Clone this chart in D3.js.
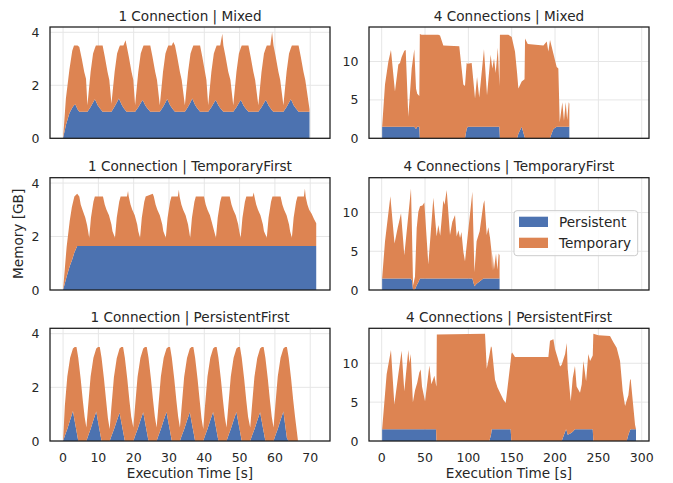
<!DOCTYPE html>
<html>
<head>
<meta charset="utf-8">
<script src="https://cdn.jsdelivr.net/npm/d3@7"></script>
<style>
  body { margin: 0; background: #fff; }
  text { font-family: "DejaVu Sans", sans-serif; fill: #262626; }
</style>
</head>
<body>
<svg></svg>
<script>
// ---- data (time in s, memory in GB) ----
var keys = ['Persistent', 'Temporary'];

// 1 Connection | Mixed (one line per cycle)
var mixed1Time = [
  0, 0.8, 1.8, 2.6, 3.1, 3.5, 4.1, 4.6, 5.3, 6.0, 6.5,
  6.9, 7.8, 8.5, 9.0, 9.3, 9.8, 10.3, 11.2, 11.8, 12.6, 13.1,
  13.7, 14.6, 15.3, 15.8, 16.1, 16.6, 17.1, 17.7, 18.0, 18.6, 19.4, 19.9,
  20.4, 21.3, 22.0, 22.5, 22.8, 23.3, 23.8, 24.7, 25.3, 26.1, 26.6,
  27.4, 28.3, 29.0, 29.5, 29.8, 30.3, 30.8, 31.2, 31.7, 32.3, 33.1, 33.6,
  34.5, 35.4, 36.1, 36.6, 36.9, 37.4, 37.9, 38.8, 39.4, 40.2, 40.6,
  41.1, 42.0, 42.7, 43.2, 43.5, 44.0, 44.5, 45.1, 45.4, 46.0, 46.8, 47.4,
  48.2, 49.1, 49.8, 50.3, 50.6, 51.1, 51.6, 52.5, 53.1, 53.9, 54.4,
  55.3, 56.2, 56.9, 57.4, 57.7, 58.2, 58.7, 59.2, 59.6, 60.2, 61.0, 61.5,
  62.4, 63.3, 64.0, 64.5, 64.8, 65.3, 65.8, 66.7, 67.3, 68.1, 68.6, 69.8
];
var mixed1Persistent = [
  0, 0.5, 0.95, 1.15, 1.25, 1.28, 1.1, 1.0, 1.0, 1.0, 1.0,
  1.0, 1.18, 1.35, 1.47, 1.4, 1.25, 1.15, 1.0, 1.0, 1.0, 1.0,
  1.0, 1.2, 1.37, 1.5, 1.42, 1.27, 1.15, 1.05, 1.0, 1.0, 1.0, 1.0,
  1.0, 1.17, 1.33, 1.45, 1.38, 1.24, 1.14, 1.0, 1.0, 1.0, 1.0,
  1.0, 1.18, 1.35, 1.48, 1.4, 1.25, 1.15, 1.08, 1.0, 1.0, 1.0, 1.0,
  1.0, 1.19, 1.36, 1.5, 1.41, 1.26, 1.15, 1.0, 1.0, 1.0, 1.0,
  1.0, 1.17, 1.33, 1.45, 1.38, 1.24, 1.14, 1.05, 1.0, 1.0, 1.0, 1.0,
  1.0, 1.17, 1.33, 1.45, 1.38, 1.24, 1.14, 1.0, 1.0, 1.0, 1.0,
  1.0, 1.17, 1.33, 1.45, 1.38, 1.24, 1.14, 1.05, 1.0, 1.0, 1.0, 1.0,
  1.0, 1.18, 1.35, 1.47, 1.4, 1.25, 1.15, 1.0, 1.0, 1.0, 1.0, 1.0
];
var mixed1Temporary = [
  0, 1.0, 1.65, 2.15, 2.25, 2.22, 2.4, 2.45, 2.0, 1.5, 1.25,
  0.25, 1.32, 1.85, 1.93, 2.1, 2.25, 2.35, 2.5, 2.1, 1.5, 1.2,
  0.3, 1.3, 1.83, 1.9, 2.08, 2.23, 2.35, 2.65, 2.5, 2.1, 1.5, 1.2,
  0.25, 1.33, 1.87, 1.95, 2.12, 2.26, 2.36, 2.5, 2.1, 1.5, 1.2,
  0.25, 1.32, 1.85, 1.92, 2.1, 2.25, 2.35, 2.55, 2.5, 2.1, 1.5, 1.2,
  0.25, 1.31, 1.84, 1.9, 2.09, 2.24, 2.35, 2.5, 2.1, 1.5, 1.2,
  0.25, 1.33, 1.87, 1.95, 2.12, 2.26, 2.36, 2.9, 2.5, 2.1, 1.5, 1.2,
  0.25, 1.33, 1.87, 1.95, 2.12, 2.26, 2.36, 2.5, 2.1, 1.5, 1.2,
  0.25, 1.33, 1.87, 1.95, 2.12, 2.26, 2.36, 2.95, 2.5, 2.1, 1.5, 1.2,
  0.25, 1.32, 1.85, 1.93, 2.1, 2.25, 2.35, 2.5, 2.1, 1.5, 1.2, 0.1
];

// 1 Connection | TemporaryFirst
var tempFirst1Time = [
  0, 1.0, 1.9, 2.5, 3.2, 4.0, 4.6, 5.0, 5.5, 6.3, 6.8, 7.1,
  7.4, 7.9, 8.6, 9.0, 11.3, 11.8, 12.3, 13.0, 13.7, 14.0,
  14.7, 15.2, 15.9, 16.3, 18.1, 18.4, 18.6, 19.1, 19.6, 20.3, 21.0, 21.3,
  21.8, 22.3, 23.0, 23.4, 25.4, 25.7, 26.2, 26.7, 27.4, 28.1, 28.4,
  29.1, 29.6, 30.3, 30.7, 32.5, 32.8, 33.0, 33.5, 34.0, 34.7, 35.4, 35.7,
  36.0, 36.5, 37.2, 37.6, 39.9, 40.4, 40.9, 41.6, 42.3, 42.8,
  43.3, 43.8, 44.5, 44.9, 47.2, 47.7, 48.2, 48.9, 49.6, 49.9,
  50.3, 50.8, 51.5, 51.9, 53.7, 54.0, 54.2, 54.7, 55.2, 55.9, 56.6, 56.9,
  57.7, 58.2, 58.9, 59.3, 61.6, 62.1, 62.6, 63.3, 64.0, 64.3,
  64.8, 65.3, 66.0, 66.4, 68.2, 68.5, 68.7, 69.2, 69.7, 70.4, 71.1, 71.7
];
var tempFirst1Persistent = [
  0, 0.5, 0.9, 1.1, 1.4, 1.65, 1.65, 1.65, 1.65, 1.65, 1.65, 1.65,
  1.65, 1.65, 1.65, 1.65, 1.65, 1.65, 1.65, 1.65, 1.65, 1.65,
  1.65, 1.65, 1.65, 1.65, 1.65, 1.65, 1.65, 1.65, 1.65, 1.65, 1.65, 1.65,
  1.65, 1.65, 1.65, 1.65, 1.65, 1.65, 1.65, 1.65, 1.65, 1.65, 1.65,
  1.65, 1.65, 1.65, 1.65, 1.65, 1.65, 1.65, 1.65, 1.65, 1.65, 1.65, 1.65,
  1.65, 1.65, 1.65, 1.65, 1.65, 1.65, 1.65, 1.65, 1.65, 1.65,
  1.65, 1.65, 1.65, 1.65, 1.65, 1.65, 1.65, 1.65, 1.65, 1.65,
  1.65, 1.65, 1.65, 1.65, 1.65, 1.65, 1.65, 1.65, 1.65, 1.65, 1.65, 1.65,
  1.65, 1.65, 1.65, 1.65, 1.65, 1.65, 1.65, 1.65, 1.65, 1.65,
  1.65, 1.65, 1.65, 1.65, 1.65, 1.65, 1.65, 1.65, 1.65, 1.65, 1.65, 1.65
];
var tempFirst1Temporary = [
  0, 1.1, 1.7, 2.0, 2.1, 1.95, 1.85, 1.55, 1.35, 1.05, 0.78, 0.55,
  0.3, 1.05, 1.65, 1.85, 1.85, 1.55, 1.35, 1.15, 0.8, 0.55,
  0.3, 1.05, 1.65, 1.85, 1.85, 2.05, 1.85, 1.55, 1.35, 1.15, 0.8, 0.55,
  0.3, 1.05, 1.65, 1.85, 1.95, 1.85, 1.55, 1.35, 1.15, 0.8, 0.55,
  0.3, 1.05, 1.65, 1.85, 1.85, 2.1, 1.85, 1.55, 1.35, 1.15, 0.8, 0.55,
  0.3, 1.05, 1.65, 1.85, 1.85, 1.55, 1.35, 1.15, 0.8, 0.55,
  0.3, 1.05, 1.65, 1.85, 1.85, 1.55, 1.35, 1.15, 0.8, 0.55,
  0.3, 1.05, 1.65, 1.85, 1.85, 2.0, 1.85, 1.55, 1.35, 1.15, 0.8, 0.55,
  0.3, 1.05, 1.65, 1.85, 1.85, 1.55, 1.35, 1.15, 0.8, 0.55,
  0.3, 1.05, 1.65, 1.85, 1.85, 2.15, 1.85, 1.55, 1.35, 1.2, 1.0, 0.85
];

// 1 Connection | PersistentFirst
var persFirst1Time = [
  0, 0.5, 1.2, 2.0, 2.8, 3.3, 3.8, 4.3, 5.0, 5.6, 6.1,
  6.6, 7.1, 7.8, 8.6, 9.4, 9.9, 10.4, 10.9, 11.6, 12.2, 12.7,
  13.2, 13.7, 14.4, 15.2, 16.0, 16.5, 17.0, 17.5, 18.2, 18.8, 19.3,
  19.9, 20.4, 21.1, 21.9, 22.7, 23.2, 23.7, 24.2, 24.9, 25.5, 26.0,
  26.5, 27.0, 27.7, 28.5, 29.3, 29.8, 30.3, 30.8, 31.5, 32.1, 32.6,
  33.1, 33.6, 34.3, 35.1, 35.9, 36.4, 36.9, 37.4, 38.1, 38.7, 39.2,
  39.7, 40.2, 40.9, 41.7, 42.5, 43.0, 43.5, 44.0, 44.7, 45.3, 45.8,
  46.3, 46.8, 47.5, 48.3, 49.1, 49.6, 50.1, 50.6, 51.3, 51.9, 52.4,
  53.0, 53.5, 54.2, 55.0, 55.8, 56.3, 56.8, 57.3, 58.0, 58.6, 59.1,
  59.6, 60.1, 60.8, 61.6, 62.4, 62.9, 63.4, 63.9, 64.6, 65.2, 65.7, 66.5
];
var persFirst1Persistent = [
  0, 0.2, 0.45, 0.78, 1.12, 0.74, 0.37, 0, 0, 0, 0,
  0, 0.2, 0.45, 0.78, 1.1, 0.72, 0.36, 0, 0, 0, 0,
  0, 0.19, 0.43, 0.75, 1.05, 0.7, 0.35, 0, 0, 0, 0,
  0, 0.2, 0.44, 0.76, 1.07, 0.71, 0.35, 0, 0, 0, 0,
  0, 0.2, 0.45, 0.77, 1.08, 0.72, 0.36, 0, 0, 0, 0,
  0, 0.2, 0.44, 0.76, 1.07, 0.71, 0.35, 0, 0, 0, 0,
  0, 0.2, 0.45, 0.77, 1.08, 0.72, 0.36, 0, 0, 0, 0,
  0, 0.2, 0.45, 0.77, 1.08, 0.72, 0.36, 0, 0, 0, 0,
  0, 0.2, 0.44, 0.76, 1.07, 0.71, 0.35, 0, 0, 0, 0,
  0, 0.2, 0.45, 0.78, 1.1, 0.6, 0.1, 0, 0, 0, 0, 0
];
var persFirst1Temporary = [
  0, 1.1, 1.95, 2.32, 2.33, 2.76, 3.13, 3.1, 2.3, 1.5, 0.9,
  0.5, 1.1, 1.95, 2.32, 2.35, 2.78, 3.14, 3.1, 2.3, 1.5, 0.85,
  0.45, 1.1, 1.95, 2.33, 2.4, 2.8, 3.15, 3.1, 2.3, 1.5, 0.9,
  0.5, 1.1, 1.95, 2.33, 2.38, 2.79, 3.15, 3.1, 2.3, 1.5, 0.9,
  0.5, 1.1, 1.95, 2.33, 2.37, 2.78, 3.14, 3.1, 2.3, 1.5, 0.9,
  0.5, 1.1, 1.95, 2.33, 2.38, 2.79, 3.15, 3.1, 2.3, 1.5, 0.85,
  0.45, 1.1, 1.95, 2.33, 2.37, 2.78, 3.14, 3.1, 2.3, 1.5, 0.9,
  0.5, 1.1, 1.95, 2.33, 2.37, 2.78, 3.14, 3.1, 2.3, 1.5, 0.9,
  0.5, 1.1, 1.95, 2.33, 2.38, 2.79, 3.15, 3.1, 2.3, 1.5, 0.9,
  0.5, 1.1, 1.95, 2.32, 2.35, 2.9, 3.4, 3.1, 2.3, 1.5, 0.9, 0.05
];

// 4 Connections | Mixed
var mixed4Time = [
  0.5, 3.8, 7.7, 10.7, 15.3, 19.2, 21.1, 23.0, 26.1, 27.7,
  30.7, 34.6, 37.6, 39.6, 41.0, 43.4, 44.0, 46.1, 65.3, 67.3,
  71.1, 89.5, 94.2, 96.1, 98.0, 99.2, 103.8, 107.7, 110.0, 112.5,
  118.0, 121.5, 125.7, 127.6, 129.6, 131.5, 134.0, 135.8, 136.4, 146.1,
  150.0, 153.8, 156.2, 157.7, 161.5, 164.8, 165.4, 168.5, 186.6, 190.4,
  192.3, 194.2, 196.0, 198.1, 201.9, 203.8, 205.4, 208.4, 210.3, 212.3,
  214.0, 215.8, 216.5
];
var mixed4Persistent = [
  1.5, 1.5, 1.5, 1.5, 1.5, 1.5, 1.5, 1.5, 1.5, 1.5,
  1.5, 1.5, 1.5, 1.2, 1.5, 1.5, 0, 0, 0, 0,
  0, 0, 0, 0, 1.2, 1.5, 1.5, 1.5, 1.5, 1.5,
  1.5, 1.5, 1.5, 1.5, 1.5, 1.5, 1.5, 1.5, 0, 0,
  0, 0, 0, 0.6, 1.5, 0.2, 0, 0, 0, 0,
  0, 0, 0.6, 1.2, 1.5, 1.5, 1.5, 1.5, 1.5, 1.5,
  1.5, 1.5, 1.5
];
var mixed4Temporary = [
  0, 5.5, 8.5, 10.0, 4.6, 8.1, 8.3, 9.1, 9.9, 10.0,
  1.3, 7.6, 10.1, 5.3, 4.3, 4.0, 13.6, 13.5, 13.5, 13.4,
  12.1, 12.0, 7.0, 6.8, 8.6, 8.2, 8.3, 3.7, 6.5, 3.8,
  10.1, 4.1, 9.4, 7.6, 8.9, 7.0, 10.3, 5.3, 13.5, 13.5,
  13.2, 11.3, 8.5, 5.9, 5.9, 7.5, 13.0, 12.3, 12.1, 12.6,
  11.3, 12.8, 11.4, 9.8, 7.8, 7.6, 0.6, 3.2, 0.8, 3.2,
  0.9, 3.2, 3.0
];

// 4 Connections | TemporaryFirst
var tempFirst4Time = [
  0.5, 3.8, 10.0, 14.8, 18.4, 22.3, 26.1, 33.8, 35.0, 36.2,
  38.4, 40.4, 42.3, 44.2, 47.0, 49.2, 53.8, 59.6, 63.4, 65.3,
  67.5, 71.1, 72.5, 75.0, 78.8, 81.5, 84.6, 86.5, 88.5, 90.4,
  92.0, 94.2, 96.1, 104.6, 107.0, 109.5, 113.0, 117.3, 118.5, 121.2,
  123.0, 125.0, 126.9, 127.3, 128.0, 129.5, 131.9, 133.5, 135.0, 136.0
];
var tempFirst4Persistent = [
  1.5, 1.5, 1.5, 1.5, 1.5, 1.5, 1.5, 1.5, 1.2, 0,
  0.1, 0.6, 1.0, 1.5, 1.5, 1.5, 1.5, 1.5, 1.5, 1.5,
  1.5, 1.5, 1.5, 1.5, 1.5, 1.5, 1.5, 1.5, 1.5, 1.5,
  1.5, 1.5, 1.5, 1.5, 0.5, 0.8, 1.1, 1.5, 1.5, 1.5,
  1.5, 1.5, 1.5, 1.5, 1.5, 1.5, 1.5, 1.5, 1.5, 1.5
];
var tempFirst4Temporary = [
  0, 4.75, 10.6, 4.5, 6.5, 8.4, 3.0, 11.6, 6.0, 0.6,
  1.6, 7.4, 9.1, 9.3, 9.4, 9.8, 1.8, 10.4, 5.4, 6.9,
  5.5, 10.1, 9.5, 11.4, 5.6, 7.3, 8.2, 5.4, 6.2, 5.2,
  6.0, 3.45, 2.2, 11.2, 1.8, 5.5, 6.5, 9.6, 10.1, 5.6,
  6.6, 5.2, 3.25, 1.0, 3.2, 1.1, 3.2, 1.1, 3.2, 3.0
];

// 4 Connections | PersistentFirst
var persFirst4Time = [
  0.5, 5.7, 10.7, 14.6, 19.2, 23.0, 26.1, 30.7, 32.0, 33.5,
  36.0, 38.4, 41.0, 43.4, 45.0, 46.5, 50.0, 55.0, 57.3, 60.8,
  62.7, 63.2, 63.6, 119.2, 121.2, 124.2, 126.1, 127.0, 130.7, 133.5,
  136.5, 140.4, 143.1, 148.8, 149.6, 150.5, 153.8, 192.3, 194.2, 198.1,
  200.0, 203.0, 205.8, 207.7, 211.6, 212.7, 213.5, 214.6, 218.1, 220.4,
  223.0, 224.9, 228.8, 230.8, 232.7, 235.8, 238.4, 240.4, 243.5, 244.2,
  250.0, 263.4, 267.3, 271.1, 275.0, 278.1, 280.8, 282.7, 284.6, 286.6,
  287.3, 289.7, 292.3, 293.4
];
var persFirst4Persistent = [
  1.5, 1.5, 1.5, 1.5, 1.5, 1.5, 1.5, 1.5, 1.5, 1.5,
  1.5, 1.5, 1.5, 1.5, 1.5, 1.5, 1.5, 1.5, 1.5, 1.5,
  1.5, 0, 0, 0, 0, 0, 0.8, 1.5, 1.5, 1.5,
  1.5, 1.5, 1.5, 1.5, 0, 0, 0, 0, 0, 0,
  0, 0, 0, 0, 1.2, 1.5, 1.3, 0.8, 1.0, 1.2,
  1.5, 1.5, 1.5, 1.5, 1.5, 1.5, 1.5, 1.5, 1.5, 0,
  0, 0, 0, 0, 0, 0, 0, 0, 0.8, 1.4,
  1.5, 1.5, 1.5, 1.5
];
var persFirst4Temporary = [
  0, 7.1, 10.2, 3.2, 7.1, 10.1, 4.9, 10.2, 8.5, 9.7,
  3.5, 5.0, 6.0, 7.3, 7.7, 5.5, 3.6, 8.2, 5.8, 6.9,
  5.7, 7.0, 13.7, 13.8, 9.3, 11.0, 11.4, 10.5, 6.4, 5.4,
  4.7, 3.8, 3.4, 8.8, 11.2, 11.4, 10.8, 10.8, 12.9, 13.1,
  11.8, 10.7, 9.6, 9.8, 10.0, 10.5, 11.3, 8.5, 4.1, 6.9,
  8.15, 5.5, 4.7, 5.8, 8.8, 6.2, 9.7, 8.8, 9.5, 13.8,
  13.6, 13.5, 12.7, 12.0, 10.3, 6.4, 4.5, 5.2, 5.1, 6.5,
  6.4, 3.6, 0.6, 0
];

// axis ticks
var xTicksOne = [0, 10, 20, 30, 40, 50, 60, 70];
var xTicksFour = [0, 50, 100, 150, 200, 250, 300];
var yTicksOne = [0, 2, 4];
var yTicksFour = [0, 5, 10];

// ---- layout ----
var width = 673, height = 483;
var colRange = [[50, 330], [369, 649]];
var rowRange = [[27, 138.3], [177.7, 290], [328.3, 441]];
var xDomain = [[-3.7, 75.6], [-14.65, 308.4]];
var yDomain = [[0, 4.2], [0, 14.5]];
var xTicks = [xTicksOne, xTicksFour];
var yTicks = [yTicksOne, yTicksFour];

var panels = [
  { title: '1 Connection | Mixed', row: 0, col: 0, time: mixed1Time, persistent: mixed1Persistent, temporary: mixed1Temporary },
  { title: '4 Connections | Mixed', row: 0, col: 1, time: mixed4Time, persistent: mixed4Persistent, temporary: mixed4Temporary },
  { title: '1 Connection | TemporaryFirst', row: 1, col: 0, time: tempFirst1Time, persistent: tempFirst1Persistent, temporary: tempFirst1Temporary },
  { title: '4 Connections | TemporaryFirst', row: 1, col: 1, time: tempFirst4Time, persistent: tempFirst4Persistent, temporary: tempFirst4Temporary },
  { title: '1 Connection | PersistentFirst', row: 2, col: 0, time: persFirst1Time, persistent: persFirst1Persistent, temporary: persFirst1Temporary },
  { title: '4 Connections | PersistentFirst', row: 2, col: 1, time: persFirst4Time, persistent: persFirst4Persistent, temporary: persFirst4Temporary }
];

var color = d3.scaleOrdinal().domain(keys).range(['#4c72b0', '#dd8452']);

var svg = d3.select('svg')
    .attr('width', width)
    .attr('height', height);

panels.forEach((p, i) => {
  var x = d3.scaleLinear().domain(xDomain[p.col]).range(colRange[p.col]);
  var y = d3.scaleLinear().domain(yDomain[p.col]).range([rowRange[p.row][1], rowRange[p.row][0]]);
  var x0 = colRange[p.col][0], x1 = colRange[p.col][1];
  var top = rowRange[p.row][0], bottom = rowRange[p.row][1];

  var g = svg.append('g');

  g.append('clipPath').attr('id', 'clip' + i)
    .append('rect')
      .attr('x', x0).attr('y', top)
      .attr('width', x1 - x0).attr('height', bottom - top);

  // grid
  g.selectAll('.gx').data(xTicks[p.col])
    .enter().append('line')
      .attr('x1', d => x(d)).attr('x2', d => x(d))
      .attr('y1', top).attr('y2', bottom)
      .attr('stroke', '#e6e6e6').attr('stroke-width', 1);
  g.selectAll('.gy').data(yTicks[p.col])
    .enter().append('line')
      .attr('x1', x0).attr('x2', x1)
      .attr('y1', d => y(d)).attr('y2', d => y(d))
      .attr('stroke', '#e6e6e6').attr('stroke-width', 1);

  // stacked areas
  var rows = p.time.map((t, j) => ({ t: t, Persistent: p.persistent[j], Temporary: p.temporary[j] }));
  var series = d3.stack().keys(keys)(rows);
  var area = d3.area()
    .x(d => x(d.data.t))
    .y0(d => y(d[0]))
    .y1(d => y(d[1]));

  g.append('g').attr('clip-path', 'url(#clip' + i + ')')
    .selectAll('path').data(series)
    .enter().append('path')
      .attr('fill', d => color(d.key))
      .attr('d', area);

  // frame
  g.append('rect')
    .attr('x', x0).attr('y', top)
    .attr('width', x1 - x0).attr('height', bottom - top)
    .attr('fill', 'none').attr('stroke', '#1a1a1a').attr('stroke-width', 1.25);

  // y tick labels
  g.selectAll('.ty').data(yTicks[p.col])
    .enter().append('text')
      .attr('x', x0 - 10.5)
      .attr('y', d => y(d))
      .attr('dy', '0.36em')
      .attr('text-anchor', 'end')
      .attr('font-size', 12.5)
      .text(d => d);

  // x tick labels on the bottom row
  if (p.row === 2) {
    g.selectAll('.tx').data(xTicks[p.col])
      .enter().append('text')
        .attr('x', d => x(d))
        .attr('y', bottom + 20.5)
        .attr('text-anchor', 'middle')
        .attr('font-size', 12.5)
        .text(d => d);
    g.append('text')
      .attr('x', (x0 + x1) / 2)
      .attr('y', 478)
      .attr('text-anchor', 'middle')
      .attr('font-size', 13.6)
      .text('Execution Time [s]');
  }

  g.append('text')
    .attr('x', (x0 + x1) / 2)
    .attr('y', top - 6.5)
    .attr('text-anchor', 'middle')
    .attr('font-size', 13.6)
    .text(p.title);
});

svg.append('text')
  .attr('transform', 'translate(22.7,' + ((rowRange[1][0] + rowRange[1][1]) / 2) + ') rotate(-90)')
  .attr('text-anchor', 'middle')
  .attr('font-size', 13.6)
  .text('Memory [GB]');

// legend inside the 4 Connections | TemporaryFirst panel
var legend = svg.append('g').attr('transform', 'translate(514,210.7)');
legend.append('rect')
  .attr('width', 123.7).attr('height', 45).attr('rx', 3)
  .attr('fill', '#fff').attr('fill-opacity', 0.8)
  .attr('stroke', '#cccccc').attr('stroke-width', 1);
legend.selectAll('.lp').data(keys)
  .enter().append('rect')
    .attr('x', 5).attr('y', (d, i) => 6 + i * 21)
    .attr('width', 29).attr('height', 10.3)
    .attr('fill', d => color(d));
legend.selectAll('.lt').data(keys)
  .enter().append('text')
    .attr('x', 45).attr('y', (d, i) => 16.3 + i * 21)
    .attr('font-size', 13.6)
    .text(d => d);
</script>
</body>
</html>
